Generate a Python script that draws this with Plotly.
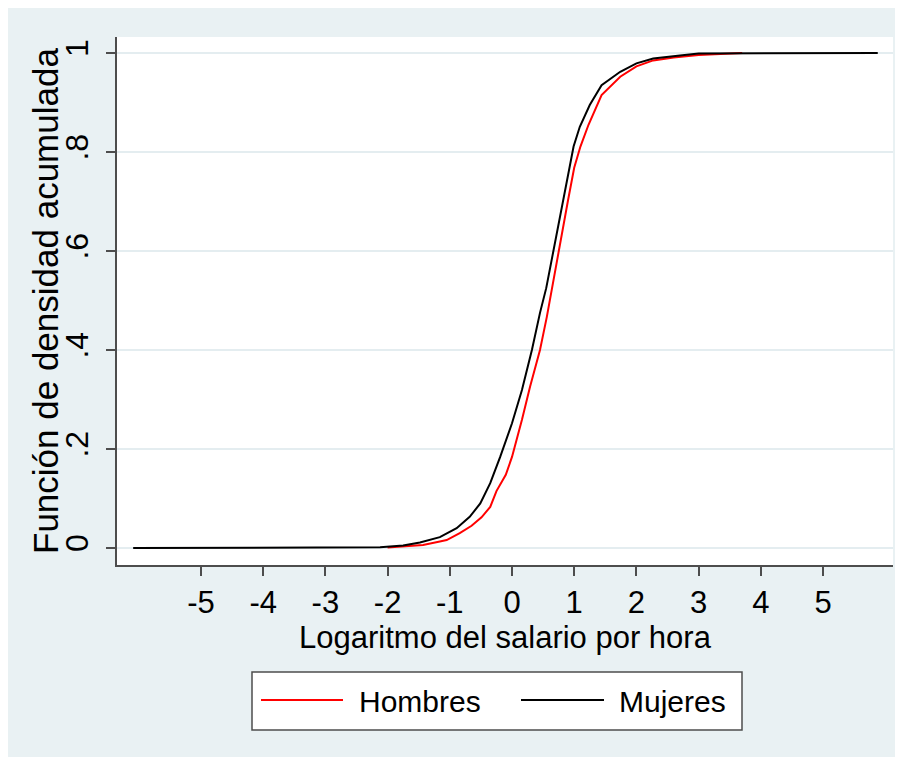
import plotly.graph_objects as go

# ---- data ----
hombres_x = [-2.0, -1.69, -1.43, -1.16, -1.05, -0.84, -0.65, -0.49, -0.35, -0.25, -0.1, 0.0,
             0.16, 0.29, 0.45, 0.56, 0.66, 0.8, 0.9, 1.0, 1.1, 1.23, 1.44, 1.74, 2.0, 2.27,
             2.6, 3.0, 3.7]
hombres_y = [0.001, 0.003, 0.006, 0.013, 0.016, 0.030, 0.045, 0.062, 0.083, 0.115, 0.148, 0.184,
             0.259, 0.326, 0.400, 0.467, 0.538, 0.634, 0.702, 0.768, 0.811, 0.855, 0.915, 0.952,
             0.973, 0.985, 0.991, 0.996, 1.0]

mujeres_x = [-6.09, -2.45, -2.12, -1.75, -1.48, -1.16, -0.89, -0.68, -0.51, -0.35, -0.19, 0.0,
             0.16, 0.32, 0.45, 0.55, 0.7, 0.85, 0.99, 1.09, 1.25, 1.44, 1.74, 2.0, 2.27, 2.7,
             3.0, 5.88]
mujeres_y = [0.0, 0.001, 0.0015, 0.005, 0.011, 0.022, 0.040, 0.063, 0.090, 0.131, 0.184, 0.252,
             0.319, 0.400, 0.475, 0.525, 0.625, 0.720, 0.811, 0.851, 0.895, 0.935, 0.962, 0.979,
             0.989, 0.995, 0.999, 1.0]

x_ticks = [-5, -4, -3, -2, -1, 0, 1, 2, 3, 4, 5]
x_ticktext = ["-5", "-4", "-3", "-2", "-1", "0", "1", "2", "3", "4", "5"]
y_ticks = [0, 0.2, 0.4, 0.6, 0.8, 1]
y_ticktext = ["0", ".2", ".4", ".6", ".8", "1"]

series_names = ["Hombres", "Mujeres"]
series_colors = ["#ff0000", "#000000"]
x_title = "Logaritmo del salario por hora"
y_title = "Función de densidad acumulada"

# ---- layout geometry (page body adds an 8px offset) ----
W, H = 895, 749
OFF = 8
ML, MR, MT, MB = 109, 10, 29, 192
PW, PH = W - ML - MR, H - MT - MB
BG = "#e9f1f3"
AXC = "#4d4d4d"
FONT = "Liberation Sans, Arial, sans-serif"
FS = 31


def px(x):
    """screen x pixel -> paper x"""
    return (x - OFF - ML) / PW


def py(y):
    """screen y pixel -> paper y"""
    return (H - MB - (y - OFF)) / PH


fig = go.Figure()
fig.add_trace(go.Scatter(x=hombres_x, y=hombres_y, mode="lines", name=series_names[0],
                         line=dict(color=series_colors[0], width=2), showlegend=False))
fig.add_trace(go.Scatter(x=mujeres_x, y=mujeres_y, mode="lines", name=series_names[1],
                         line=dict(color=series_colors[1], width=2), showlegend=False))

shapes = [
    # legend box
    dict(type="rect", xref="paper", yref="paper", x0=px(252), x1=px(742), y0=py(730), y1=py(672),
         fillcolor="white", line=dict(color=AXC, width=1.5)),
    dict(type="line", xref="paper", yref="paper", x0=px(261), x1=px(343), y0=py(700), y1=py(700),
         line=dict(color=series_colors[0], width=2)),
    dict(type="line", xref="paper", yref="paper", x0=px(521), x1=px(604), y0=py(700), y1=py(700),
         line=dict(color=series_colors[1], width=2)),
]

annotations = [
    dict(text=series_names[0], xref="paper", yref="paper", x=px(357), y=py(701),
         xanchor="left", yanchor="middle", showarrow=False, font=dict(size=30, color="black")),
    dict(text=series_names[1], xref="paper", yref="paper", x=px(617), y=py(701),
         xanchor="left", yanchor="middle", showarrow=False, font=dict(size=30, color="black")),
    dict(text=y_title, xref="paper", yref="paper", x=px(45), y=py(301), textangle=-90,
         xanchor="center", yanchor="middle", showarrow=False, font=dict(size=35, color="black")),
]

fig.update_layout(
    width=W, height=H,
    margin=dict(l=ML, r=MR, t=MT, b=MB, pad=0, autoexpand=False),
    paper_bgcolor=BG, plot_bgcolor="white",
    font=dict(family=FONT, size=FS, color="black"),
    shapes=shapes, annotations=annotations,
    showlegend=False,
)
fig.update_xaxes(
    range=[-6.35, 6.125], tickvals=x_ticks, ticktext=x_ticktext,
    showgrid=False, zeroline=False, automargin=False,
    showline=True, linecolor=AXC, linewidth=1.5,
    ticks="outside", ticklen=9, tickwidth=1.5, tickcolor=AXC,
    tickfont=dict(size=FS),
    title=dict(text=x_title, font=dict(size=FS), standoff=4),
)
fig.update_yaxes(
    range=[-0.0343, 1.0323], tickvals=y_ticks, ticktext=y_ticktext, tickangle=-90,
    showgrid=True, gridcolor="#e4edf0", gridwidth=1.5, zeroline=False, automargin=False,
    showline=True, linecolor=AXC, linewidth=1.5,
    ticks="outside", ticklen=9, tickwidth=1.5, tickcolor=AXC,
    tickfont=dict(size=32), ticklabelstandoff=5,
)

fig.write_html("out.html", config={"displayModeBar": False})
